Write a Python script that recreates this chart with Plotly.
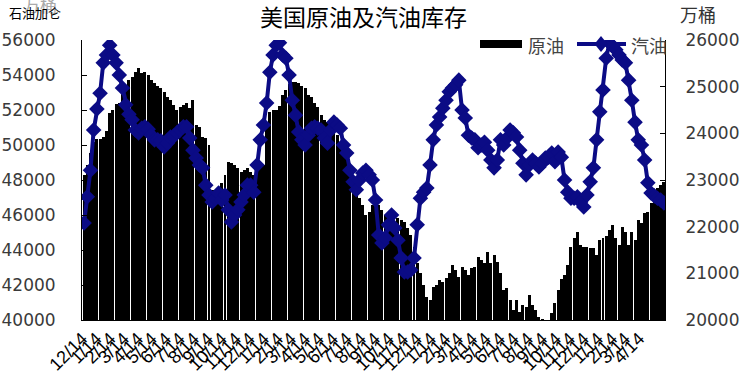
import pandas as pd
import plotly.graph_objects as go

# ---------------- data ----------------
week_start = "2015-12-18"

crude = [
    48290, 48860, 49540, 50170, 50340, 50340, 50460, 50800, 51830, 52000,
    52340, 52400, 53030, 53260, 53710, 53890, 54170, 54400, 54110, 54170,
    54000, 53710, 53540, 53370, 53260, 53030, 52740, 52570, 52290, 52000,
    52170, 52290, 52400, 52110, 52570, 51140, 51030, 50460, 50400, 50000,
    47430, 46970, 47140, 47830, 48290, 49030, 48970, 48860, 48690, 48460,
    48570, 48690, 48460, 48290, 48970, 48970, 48860, 51140, 51890, 52000,
    52000, 52230, 52860, 53140, 53490, 53600, 53600, 53540, 53370, 53260,
    52860, 52740, 52400, 52170, 51710, 51430, 51310, 51140, 50860, 50570,
    50170, 49710, 49260, 48860, 48110, 47430, 46970, 46570, 46000, 46170,
    46570, 46860, 46570, 46290, 46000, 45890, 46000, 45540, 45830, 45710,
    45600, 45260, 44860, 44170, 43260, 42690, 42000, 41310, 41140, 41890,
    42000, 42290, 42170, 42400, 42690, 43140, 42860, 42460, 43030, 42860,
    42570, 42970, 43030, 43600, 43430, 43260, 43890, 43260, 43710, 43310,
    42690, 41710, 41830, 41140, 40570, 41140, 40460, 40860, 40740, 41430,
    40860, 40570, 40170, 40060, 39900, 39900, 40400, 40970, 41710, 42340,
    42570, 43140, 44170, 44690, 45030, 44290, 44170, 44170, 44110, 44110,
    43710, 44570, 44690, 44800, 45140, 45430, 44690, 44290, 45310, 45030,
    44290, 45030, 44570, 45710, 45540, 46110, 46170, 46690, 47260, 47540,
    47710, 47890,
]

gasoline = [
    22080, 22640, 23210, 24070, 24520, 24860, 25510, 25680, 25890, 25680,
    25510, 25250, 24970, 24610, 24410, 24290, 24070, 24010, 24110, 24140,
    24090, 23960, 23860, 23860, 23840, 23710, 23790, 23920, 23940, 24010,
    24070, 24140, 24140, 23900, 23640, 23470, 23320, 23260, 22890, 22680,
    22530, 22610, 22720, 22570, 22680, 22360, 22100, 22250, 22360, 22530,
    22680, 22890, 22890, 22740, 23320, 23860, 24180, 24650, 25310, 25680,
    25890, 25940, 25680, 25610, 25250, 24710, 24390, 24030, 23860, 23750,
    23960, 24110, 24140, 24110, 24070, 23900, 23790, 24070, 24240, 24180,
    24110, 23750, 23580, 23210, 22960, 22790, 23000, 23150, 23210, 23110,
    23000, 22570, 21820, 21650, 21760, 22040, 22250, 21970, 21710, 21330,
    21030, 21030, 21070, 21330, 22040, 22610, 22740, 22830, 23320, 23860,
    24180, 24350, 24540, 24710, 24890, 24970, 25040, 25140, 24500, 24330,
    23960, 23900, 23860, 23690, 23750, 23810, 23640, 23430, 23260, 23430,
    23860, 23750, 23900, 24070, 24010, 23920, 23640, 23360, 23110, 23320,
    23430, 23360, 23280, 23360, 23470, 23490, 23580, 23390, 23600, 23490,
    23000, 22740, 22610, 22610, 22640, 22530, 22420, 22680, 22960, 23260,
    23860, 24460, 24930, 25610, 25940, 25870, 25790, 25680, 25570, 25510,
    25140, 24710, 24240, 23860, 23750, 23430, 22940, 22720, 22660, 22610,
    22570, 22510,
]

tick_labels = [
    "12/14",
    "1/14", "2/14", "3/14", "4/14", "5/14", "6/14", "7/14", "8/14", "9/14", "10/14", "11/14", "12/14",
    "1/14", "2/14", "3/14", "4/14", "5/14", "6/14", "7/14", "8/14", "9/14", "10/14", "11/14", "12/14",
    "1/14", "2/14", "3/14", "4/14", "5/14", "6/14", "7/14", "8/14", "9/14", "10/14", "11/14", "12/14",
    "1/14", "2/14", "3/14", "4/14",
]

series_names = ["原油", "汽油"]
title_text = "美国原油及汽油库存"
unit_text = "万桶"
left_label_text = "石油加仑"

# ---------------- figure ----------------
navy = "#0b0b85"
dates = pd.date_range(week_start, periods=len(crude), freq="7D")
tick_dates = pd.date_range("2015-12-01", periods=len(tick_labels), freq="MS") + pd.Timedelta(days=13)
week_ms = 7 * 24 * 3600 * 1000

fig = go.Figure()
fig.add_trace(go.Bar(
    x=dates, y=crude, name=series_names[0], yaxis="y",
    marker=dict(color="black", line=dict(width=0)),
    width=week_ms * 0.93,
))
fig.add_trace(go.Scatter(
    x=dates, y=gasoline, name=series_names[1], yaxis="y2",
    mode="lines+markers",
    line=dict(color=navy, width=4),
    marker=dict(symbol="diamond", size=12, color=navy),
))

L, R, T, B = 82, 665, 40, 320
W, H = 741, 389


def px(xp):
    return (xp - L) / (R - L)


def py(yp):
    return (B - yp) / (B - T)


tickfont = dict(family="DejaVu Sans", size=17, color="#3a3a3a")

fig.update_layout(
    width=W, height=H,
    margin=dict(l=L, r=W - R, t=T, b=H - B, pad=0, autoexpand=False),
    paper_bgcolor="white", plot_bgcolor="white",
    showlegend=False,
    bargap=0,
    xaxis=dict(
        type="date", automargin=False,
        range=["2015-12-13 12:00", "2019-06-09 12:00"],
        tickmode="array", tickvals=tick_dates, ticktext=tick_labels,
        tickangle=-45, ticks="",
        tickfont=dict(family="Liberation Sans", size=18, color="black"),
        showline=True, linecolor="black", linewidth=1,
        showgrid=False, zeroline=False,
    ),
    yaxis=dict(
        automargin=False,
        range=[40000, 56000], tick0=40000, dtick=2000, tickformat="d",
        ticks="inside", ticklen=5, tickcolor="black",
        showline=True, linecolor="black", linewidth=1,
        showgrid=False, zeroline=False,
        tickfont=tickfont, ticklabelstandoff=22,
    ),
    yaxis2=dict(
        automargin=False,
        range=[20000, 26000], tick0=20000, dtick=1000, tickformat="d",
        overlaying="y", side="right",
        ticks="inside", ticklen=5, tickcolor="black",
        showline=True, linecolor="black", linewidth=1,
        showgrid=False, zeroline=False,
        tickfont=tickfont, ticklabelstandoff=16,
    ),
)

cjk = "Noto Sans CJK SC"
annotations = [
    dict(text=title_text, x=px(363), y=py(16), xref="paper", yref="paper",
         showarrow=False, xanchor="center", yanchor="middle",
         font=dict(family=cjk, size=23, color="black")),
    dict(text=unit_text, x=px(698), y=py(14), xref="paper", yref="paper",
         showarrow=False, xanchor="center", yanchor="middle",
         font=dict(family=cjk, size=18, color="#333333")),
    dict(text=unit_text, x=px(40), y=py(4), xref="paper", yref="paper",
         showarrow=False, xanchor="center", yanchor="middle",
         font=dict(family=cjk, size=17, color="#aaaaaa")),
    dict(text=left_label_text, x=px(35), y=py(13), xref="paper", yref="paper",
         showarrow=False, xanchor="center", yanchor="middle",
         font=dict(family=cjk, size=13, color="black")),
    dict(text=series_names[0], x=px(526), y=py(45), xref="paper", yref="paper",
         showarrow=False, xanchor="left", yanchor="middle",
         font=dict(family=cjk, size=18, color="#444444")),
    dict(text=series_names[1], x=px(629), y=py(45), xref="paper", yref="paper",
         showarrow=False, xanchor="left", yanchor="middle",
         font=dict(family=cjk, size=18, color="#444444")),
]
fig.update_layout(annotations=annotations)

cx, cy = px(601), py(44)
dx, dy = 6.5 / (R - L), 8.0 / (B - T)
shapes = [
    dict(type="rect", xref="paper", yref="paper",
         x0=px(480), x1=px(522), y0=py(48), y1=py(40),
         fillcolor="black", line=dict(width=0)),
    dict(type="line", xref="paper", yref="paper",
         x0=px(577), x1=px(626), y0=py(44), y1=py(44),
         line=dict(color=navy, width=4)),
    dict(type="path", xref="paper", yref="paper",
         path=f"M {cx},{cy+dy} L {cx+dx},{cy} L {cx},{cy-dy} L {cx-dx},{cy} Z",
         fillcolor=navy, line=dict(width=0)),
]
fig.update_layout(shapes=shapes)

fig.write_html(
    "out.html",
    config={"displayModeBar": False},
    post_script="document.body.style.margin='0';document.body.style.overflow='hidden';",
)
